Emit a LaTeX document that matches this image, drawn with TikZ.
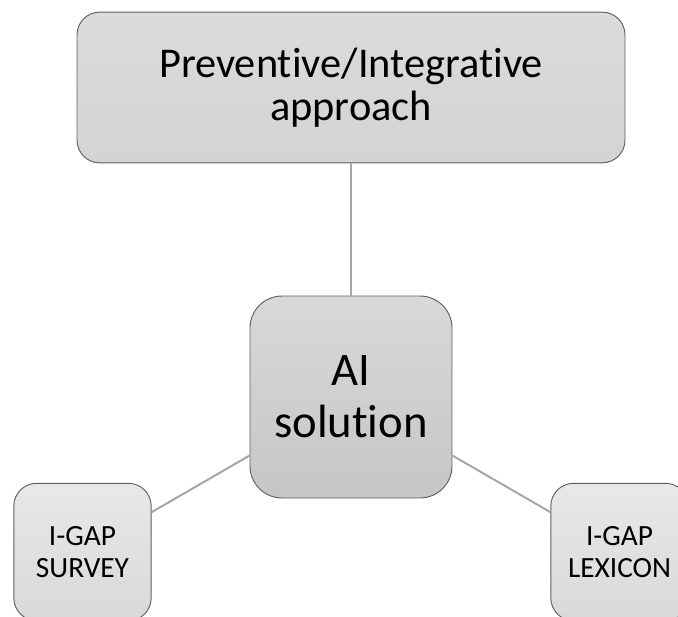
\documentclass[tikz,border=0pt]{standalone}
\usepackage{fontspec}
\setmainfont{Carlito}[Ligatures=NoCommon]
\usetikzlibrary{positioning}

\definecolor{boxline}{HTML}{5F5F5F}
\definecolor{linkgray}{HTML}{A6A6A6}

\begin{document}
\begin{tikzpicture}[
    x=0.75pt, y=-0.75pt,
    box/.style={rectangle, draw=boxline, line width=0.7pt, align=center, inner sep=0pt},
    bigbox/.style={box, rounded corners=17pt, top color=gray!28, bottom color=gray!34,
      minimum width=411pt, minimum height=113pt, font=\fontsize{31.8}{32}\selectfont},
    hubbox/.style={box, rounded corners=24pt, top color=gray!30, bottom color=gray!45,
      minimum width=151.5pt, minimum height=151.5pt, font=\fontsize{35}{39}\selectfont},
    leafbox/.style={box, rounded corners=17pt, top color=gray!18, bottom color=gray!30,
      minimum width=103pt, minimum height=103pt, font=\fontsize{22}{24}\selectfont},
    link/.style={draw=linkgray, line width=1.5pt}
    ]

    % Frame of the picture
    \clip (0,0) rectangle (678,617);

    % Top: approach
    \node[bigbox] (approach) at (351,87.5) {Preventive/Integrative\\approach};

    % Centre: AI solution
    \node[hubbox] (solution) at (351,397) {AI\\solution};

    % Bottom corners: the two I-GAP parts
    \node[leafbox] (survey) at (82.5,552) {I-GAP\\SURVEY};
    \node[leafbox] (lexicon) at (619.5,552) {I-GAP\\LEXICON};

    % Connectors
    \draw[link] (approach) -- (solution);
    \draw[link] (solution) -- (survey);
    \draw[link] (solution) -- (lexicon);

\end{tikzpicture}
\end{document}
